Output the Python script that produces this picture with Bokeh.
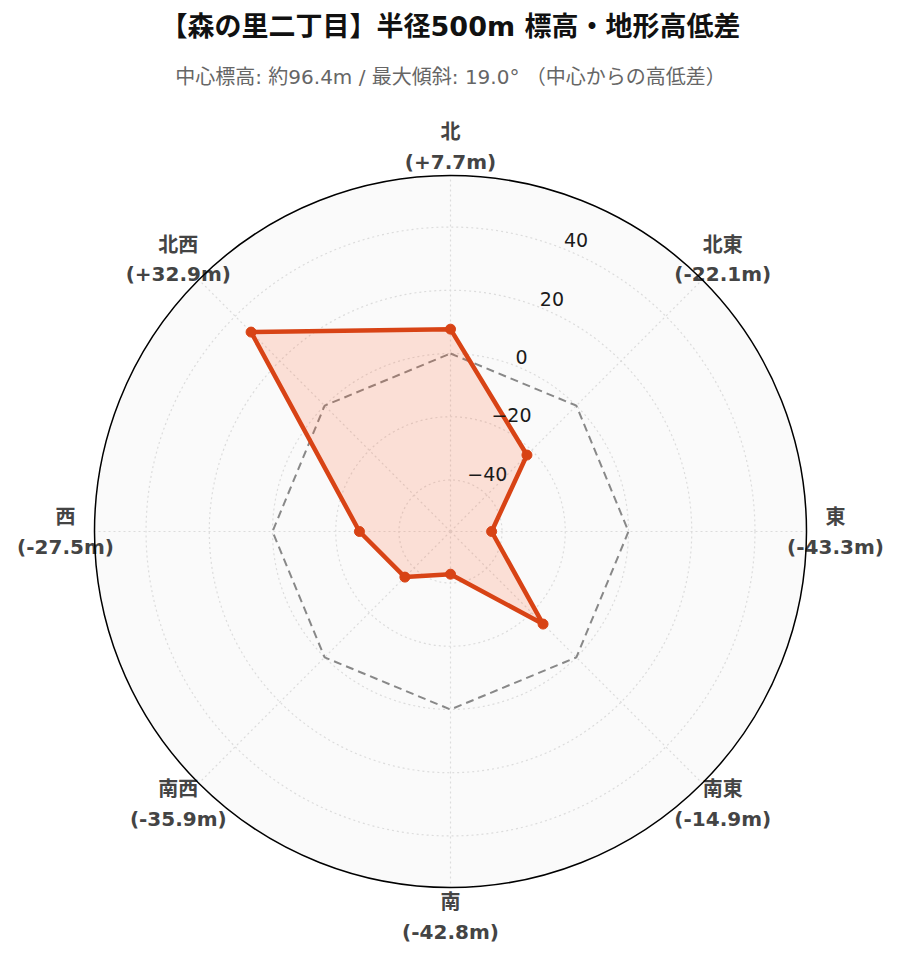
import numpy as np
from bokeh.plotting import figure
from bokeh.models import Range1d, ColumnDataSource
from bokeh.core.properties import value
from bokeh.embed import file_html
from bokeh.resources import INLINE

# ---- data ----
directions = ["北", "北東", "東", "南東", "南", "南西", "西", "北西"]
elev_diff = [7.7, -22.1, -43.3, -14.9, -42.8, -35.9, -27.5, 32.9]
radial_ticks = [-40, -20, 0, 20, 40]
radial_range = [-56.3, 56.3]
title_text = "【森の里二丁目】半径500m 標高・地形高低差"
subtitle_text = "中心標高: 約96.4m / 最大傾斜: 19.0° （中心からの高低差）"

# ---- layout (pixel units, origin at polar centre) ----
W, H = 891, 954
CX, CY = 450, 531          # centre measured from left / top of figure
R_OUT = 356.0
LINE = "#d84315"
FILL = "#ff5722"
FONT = "DejaVu Sans, Noto Sans CJK JP"

def rad(v):
    return (v - radial_range[0]) / (radial_range[1] - radial_range[0]) * R_OUT

def pol(v, ang_deg):
    r = rad(v)
    a = np.deg2rad(ang_deg)
    return r * np.sin(a), r * np.cos(a)

angles = [i * 360.0 / len(directions) for i in range(len(directions))]

p = figure(width=W, height=H, output_backend="svg", toolbar_location=None,
           x_range=Range1d(-CX, W - CX), y_range=Range1d(-(H - CY), CY),
           min_border=0, outline_line_color=None)
p.axis.visible = False
p.grid.visible = False
p.background_fill_color = "white"
p.border_fill_color = "white"

# background disc
p.circle(x=[0], y=[0], radius=[R_OUT], fill_color="#fafafa", line_color=None)

# grid circles
grid_r = [rad(t) for t in radial_ticks]
p.circle(x=[0] * len(grid_r), y=[0] * len(grid_r), radius=grid_r, fill_color=None,
         line_color="#dcdcdc", line_width=1.2, line_dash="2 3")
# radial spokes
for a in angles:
    ex, ey = pol(radial_range[1], a)
    p.line([0, ex], [0, ey], line_color="#dcdcdc", line_width=1.2, line_dash="2 3")

# zero reference polygon
zx, zy = zip(*[pol(0, a) for a in angles])
p.line(list(zx) + [zx[0]], list(zy) + [zy[0]], line_color="#888888",
       line_width=2, line_dash="8 5")

# data polygon
dx, dy = zip(*[pol(v, a) for v, a in zip(elev_diff, angles)])
p.patch(list(dx), list(dy), fill_color=FILL, fill_alpha=0.17, line_color=None)
p.line(list(dx) + [dx[0]], list(dy) + [dy[0]], line_color=LINE, line_width=4.5,
       line_join="round")
p.scatter(list(dx), list(dy), size=10, fill_color=LINE, line_color=LINE)

# angular labels
LAB_R = 385.0
lx = [LAB_R * np.sin(np.deg2rad(a)) for a in angles]
ly = [LAB_R * np.cos(np.deg2rad(a)) for a in angles]
vals_txt = ["({:+.1f}m)".format(v) for v in elev_diff]
src = ColumnDataSource(dict(x=lx, y=ly, d=directions, v=vals_txt))
p.text(x="x", y="y", text="d", source=src, text_align="center", text_baseline="middle",
       y_offset=-14.5, text_font=value(FONT), text_font_style="bold",
       text_font_size="20px", text_color="#444444")
p.text(x="x", y="y", text="v", source=src, text_align="center", text_baseline="middle",
       y_offset=15, text_font=value(FONT), text_font_style="bold",
       text_font_size="20px", text_color="#444444")

# outer circle
p.circle(x=[0], y=[0], radius=[R_OUT], fill_color=None, line_color="black", line_width=1.5)

# radial tick labels along 22.5 deg
tx, ty = zip(*[pol(t, 22.5) for t in radial_ticks])
tl = [str(t).replace("-", "\u2212") for t in radial_ticks]
p.text(x=list(tx), y=list(ty), text=tl, text_align="left", text_baseline="middle",
       x_offset=-3, y_offset=-10, text_font=value("DejaVu Sans"), text_font_size="19px",
       text_color="#1a1a1a")

# titles
p.text(x=[0], y=[CY - 26], text=[title_text], text_align="center", text_baseline="middle",
       text_font=value(FONT), text_font_style="bold", text_font_size="27px",
       text_color="#111111")
p.text(x=[0], y=[CY - 76], text=[subtitle_text], text_align="center", text_baseline="middle",
       text_font=value(FONT), text_font_size="20px", text_color="#666666")

open("out.html", "w").write(file_html(p, INLINE))
